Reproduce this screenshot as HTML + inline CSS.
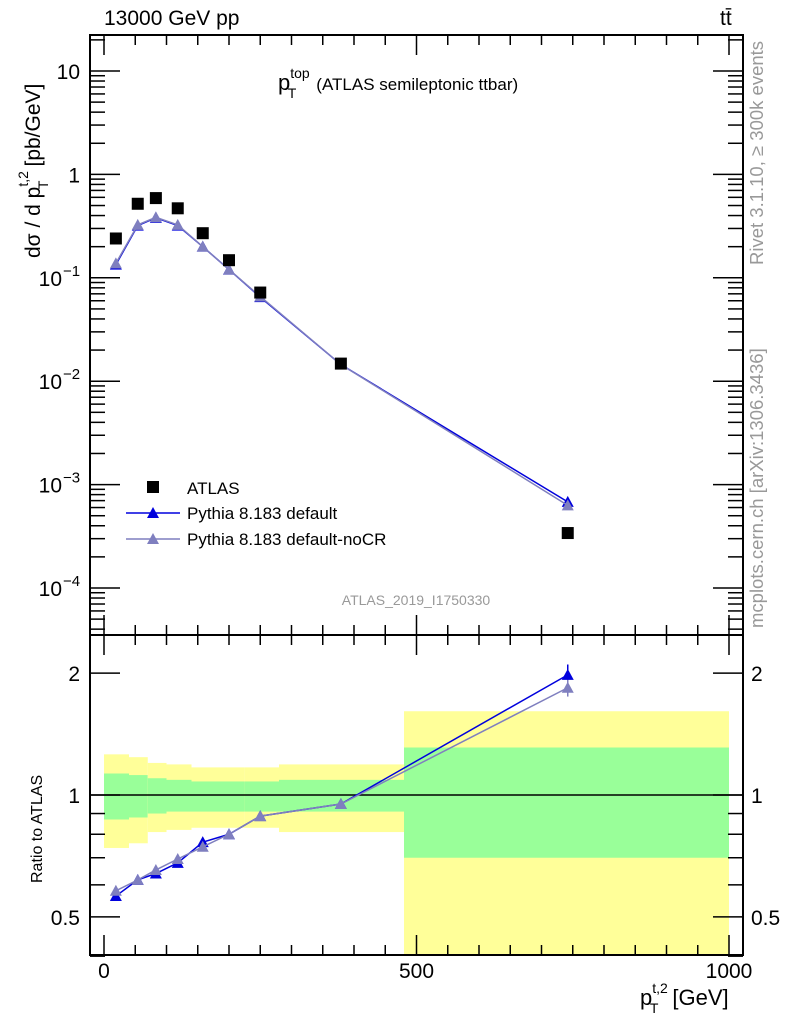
<!DOCTYPE html>
<html><head><meta charset="utf-8"><style>
body{margin:0;background:#fff}
svg{display:block;font-family:"Liberation Sans",Arial,sans-serif}
</style></head><body>
<svg id="c" width="786" height="1024" xmlns="http://www.w3.org/2000/svg"></svg>
<script>
const xEdges=[0,40,70,100,140,180,225,280,480,1000];
const xCenters=[19,54,83,118,158,200,250,379,742];
const atlasVals=[0.24,0.52,0.59,0.47,0.27,0.148,0.072,0.0148,0.00034];
const pyDefault=[0.134,0.32,0.38,0.32,0.20,0.12,0.065,0.0145,0.00068];
const pyNoCR=[0.138,0.325,0.385,0.325,0.20,0.12,0.066,0.0145,0.00063];
const ratioDefault=[0.563,0.617,0.64,0.68,0.765,0.80,0.887,0.95,1.98];
const ratioNoCR=[0.58,0.617,0.653,0.695,0.745,0.80,0.887,0.95,1.84];
const bandYellowHi=[1.26,1.24,1.20,1.19,1.17,1.17,1.17,1.19,1.61];
const bandGreenHi=[1.13,1.12,1.10,1.09,1.08,1.08,1.08,1.09,1.31];
const bandGreenLo=[0.87,0.88,0.90,0.91,0.91,0.91,0.91,0.91,0.70];
const bandYellowLo=[0.74,0.76,0.81,0.82,0.83,0.83,0.83,0.81,0.30];
const xTicks=[0,500,1000];
const yTicks=[10,1,0.1,0.01,0.001,0.0001];
const yTickLabels=["10","1","10","10","10","10"];
const yTickExp=["","","−1","−2","−3","−4"];
const rTicks=[0.5,1,2];

const L=90,R=743,T=35,MB=635,RB=955;
const sx=v=>104+v*0.625;
const sy=v=>71-Math.log10(v/10)*103.4;
const sr=v=>795-Math.log10(v)*405;
const svg=document.getElementById('c');
const NS='http://www.w3.org/2000/svg';
function mk(t,a,p){const e=document.createElementNS(NS,t);for(const k in a)e.setAttribute(k,a[k]);(p||svg).appendChild(e);return e;}
function txt(s,a,p){const e=mk('text',a,p);e.textContent=s;return e;}

const bands=mk('g',{});


for(let i=0;i<bandYellowHi.length;i++){
  const x0=sx(xEdges[i]),x1=sx(xEdges[i+1]);
  const y1=mk('rect',{x:x0,y:sr(bandYellowHi[i]),width:x1-x0,height:Math.min(RB,sr(bandYellowLo[i]))-sr(bandYellowHi[i]),fill:'#ffff99'},bands);
  
  
  const g1=mk('rect',{x:x0,y:sr(bandGreenHi[i]),width:x1-x0,height:sr(bandGreenLo[i])-sr(bandGreenHi[i]),fill:'#99ff99'},bands);
  
  
}
mk('line',{x1:L,x2:R,y1:sr(1),y2:sr(1),stroke:'#000','stroke-width':1.5});

const f1=mk('rect',{x:L,y:T,width:R-L,height:MB-T,fill:'none',stroke:'#000','stroke-width':2});

const f2=mk('rect',{x:L,y:MB,width:R-L,height:RB-MB,fill:'none',stroke:'#000','stroke-width':2});


for(let v=0;v<=1000;v+=50){
  const big=v%500===0,len=big?20:10,x=sx(v);
  [[T,1],[MB,-1],[MB,1],[RB,-1]].forEach(([y,d])=>mk('line',{x1:x,x2:x,y1:y,y2:y+d*len,stroke:'#000','stroke-width':1.5}));
}
xTicks.forEach(v=>{const t=txt(String(v),{x:sx(v),y:978,'font-size':21,'text-anchor':'middle'});});
for(let d=-5;d<=1;d++){for(let m=1;m<=9;m++){const v=m*Math.pow(10,d);const y=sy(v);if(y<T||y>MB)continue;const len=m===1?30:15;
 mk('line',{x1:L,x2:L+len,y1:y,y2:y,stroke:'#000','stroke-width':1.5});mk('line',{x1:R,x2:R-len,y1:y,y2:y,stroke:'#000','stroke-width':1.5});}}
yTicks.forEach((v,i)=>{const y=sy(v)+8;
 const t=txt(yTickLabels[i],{x:yTickExp[i]?62:80,y:y,'font-size':21,'text-anchor':'end'});
 
 if(yTickExp[i]){txt(yTickExp[i],{x:63,y:y-10,'font-size':15});}
});
[0.4,0.5,0.6,0.7,0.8,0.9,1,2].forEach(v=>{const y=sr(v);const big=(v===0.5||v===1||v===2);const len=big?30:15;
 mk('line',{x1:L,x2:L+len,y1:y,y2:y,stroke:'#000','stroke-width':1.5});mk('line',{x1:R,x2:R-len,y1:y,y2:y,stroke:'#000','stroke-width':1.5});});
rTicks.forEach(v=>{const y=sr(v)+8;
 const t=txt(String(v),{x:80,y:y,'font-size':21,'text-anchor':'end'});
 const t2=txt(String(v),{x:751,y:y,'font-size':21});});

function series(vals,col,name,fy){
  const g=mk('g',{});
  mk('polyline',{points:vals.map((v,i)=>sx(xCenters[i])+','+fy(v)).join(' '),fill:'none',stroke:col,'stroke-width':1.5},g);
  vals.forEach((v,i)=>{const x=sx(xCenters[i]),y=fy(v);const p=mk('polygon',{points:`${x-6},${y+5} ${x+6},${y+5} ${x},${y-6}`,fill:col},g);
   });
}
series(pyDefault,'#0000dd','pythia-default-line',sy);
series(pyNoCR,'#7f7fbf','pythia-nocr-line',sy);
const ga=mk('g',{});
atlasVals.forEach((v,i)=>{const r=mk('rect',{x:sx(xCenters[i])-6,y:sy(v)-6,width:12,height:12,fill:'#000'},ga);});
mk('line',{x1:sx(742),x2:sx(742),y1:sr(2.1),y2:sr(1.88),stroke:'#0000dd','stroke-width':1.5});
mk('line',{x1:sx(742),x2:sx(742),y1:sr(1.93),y2:sr(1.75),stroke:'#7f7fbf','stroke-width':1.5});
series(ratioDefault,'#0000dd','ratio-pythia-default',sr);
series(ratioNoCR,'#7f7fbf','ratio-pythia-nocr',sr);

const lg=mk('g',{});
mk('rect',{x:147,y:481,width:12,height:12,fill:'#000'},lg);
txt('ATLAS',{x:187,y:494,'font-size':17},lg);
mk('line',{x1:126,x2:180,y1:513,y2:513,stroke:'#0000dd','stroke-width':1.5},lg);
mk('polygon',{points:'147,518 159,518 153,507',fill:'#0000dd'},lg);
txt('Pythia 8.183 default',{x:187,y:519,'font-size':17},lg);
mk('line',{x1:126,x2:180,y1:539,y2:539,stroke:'#7f7fbf','stroke-width':1.5},lg);
mk('polygon',{points:'147,544 159,544 153,533',fill:'#7f7fbf'},lg);
txt('Pythia 8.183 default-noCR',{x:187,y:545,'font-size':17},lg);

let t;
t=txt('13000 GeV pp',{x:104,y:25,'font-size':21});
t=txt('tt̄',{x:720,y:25,'font-size':21});
t=txt('',{x:278,y:90,'font-size':22});
t.innerHTML='p<tspan dy="-12" font-size="14">top</tspan><tspan dx="-22" dy="20" font-size="14">T</tspan><tspan dx="20" dy="-8" font-size="17">(ATLAS semileptonic ttbar)</tspan>';
t=txt('ATLAS_2019_I1750330',{x:416,y:605,'font-size':14,fill:'#999','text-anchor':'middle'});
t=txt('',{x:0,y:0,'font-size':21,transform:'translate(40,258) rotate(-90)'});
t.innerHTML='dσ / d p<tspan dy="-12" font-size="14">t,2</tspan><tspan dx="-18" dy="20" font-size="14">T</tspan><tspan dx="14" dy="-8">[pb/GeV]</tspan>';
t=txt('Ratio to ATLAS',{x:0,y:0,'font-size':16,transform:'translate(42,883) rotate(-90)'});
t=txt('',{x:640,y:1005,'font-size':22});
t.innerHTML='p<tspan dy="-12" font-size="14">t,2</tspan><tspan dx="-18" dy="20" font-size="14">T</tspan><tspan dx="14" dy="-8">[GeV]</tspan>';
t=txt('Rivet 3.1.10, ≥ 300k events',{x:0,y:0,'font-size':18.5,fill:'#999',transform:'translate(763,265) rotate(-90)'});
t=txt('mcplots.cern.ch [arXiv:1306.3436]',{x:0,y:0,'font-size':18.5,fill:'#999',transform:'translate(763,628) rotate(-90)'});
</script>
</body></html>
